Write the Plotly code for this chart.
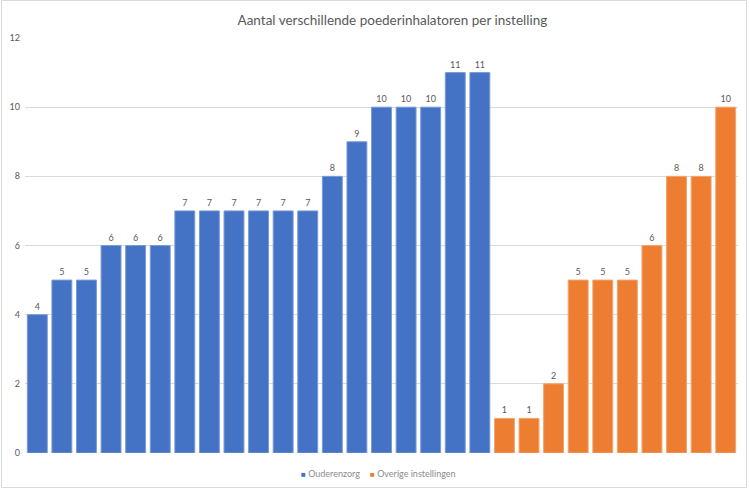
import plotly.graph_objects as go

title = "Aantal verschillende poederinhalatoren per instelling"
series_names = ["Ouderenzorg", "Overige instellingen"]
ouderenzorg = [4, 5, 5, 6, 6, 6, 7, 7, 7, 7, 7, 7, 8, 9, 10, 10, 10, 11, 11]
overige = [1, 1, 2, 5, 5, 5, 6, 8, 8, 10]
y_ticks = [0, 2, 4, 6, 8, 10, 12]
colors = ["#4472c4", "#ed7d31"]
edge_colors = ["#7b9bd6", "#f3a46f"]

n1 = len(ouderenzorg)
x1 = list(range(n1))
x2 = list(range(n1, n1 + len(overige)))

fig = go.Figure()
for xs, ys, nm, c, ec in [(x1, ouderenzorg, series_names[0], colors[0], edge_colors[0]),
                          (x2, overige, series_names[1], colors[1], edge_colors[1])]:
    fig.add_trace(go.Bar(x=xs, y=ys, name=nm, showlegend=False,
                         marker=dict(color=c, line=dict(color=ec, width=1)),
                         text=ys, textposition="outside",
                         textfont=dict(size=9, color="#595959"), cliponaxis=False))

W, H = 750, 489
ml, mr, mt, mb = 25, 12, 38, 36
pw, ph = W - ml - mr, H - mt - mb

def px(x):
    return (x - ml) / pw

def py(y):
    return (H - mb - y) / ph

legend_x = [299, 368]
annotations = []
for lx, nm, c in zip(legend_x, series_names, colors):
    annotations.append(dict(
        xref="paper", yref="paper", x=px(lx), y=py(473), xanchor="left", yanchor="middle",
        showarrow=False,
        text=f"<span style='color:{c};font-size:8px'>■</span> {nm}",
        font=dict(size=9, color="#8c8c8c")))

fig.update_layout(
    width=W, height=H,
    margin=dict(l=ml, r=mr, t=mt, b=mb, autoexpand=False),
    paper_bgcolor="white", plot_bgcolor="white",
    font=dict(family="Lato, Open Sans, sans-serif", color="#595959"),
    title=dict(text=title, x=px(398), xanchor="center", y=1 - 20 / H, yanchor="middle",
               font=dict(size=13.5, color="#595959")),
    barmode="overlay", bargap=0.19,
    showlegend=False,
    annotations=annotations,
    xaxis=dict(showticklabels=False, showgrid=False, zeroline=False, automargin=False,
               range=[-0.5, n1 + len(overige) - 0.5], showline=False, ticks=""),
    yaxis=dict(range=[0, 12], tickvals=y_ticks, showgrid=True, gridcolor="#d9d9d9",
               gridwidth=1, zeroline=False, showline=False, automargin=False,
               tickfont=dict(size=9, color="#595959"), ticks="", ticklabelstandoff=4),
    shapes=[dict(type="rect", xref="paper", yref="paper",
                 x0=px(1.5), x1=px(746.5), y0=py(487.5), y1=py(0.5),
                 line=dict(color="#d9d9d9", width=1), layer="below")],
)

fig.write_html("out.html", config={"displayModeBar": False},
               post_script="document.body.style.margin='0';document.body.style.overflow='hidden';")
